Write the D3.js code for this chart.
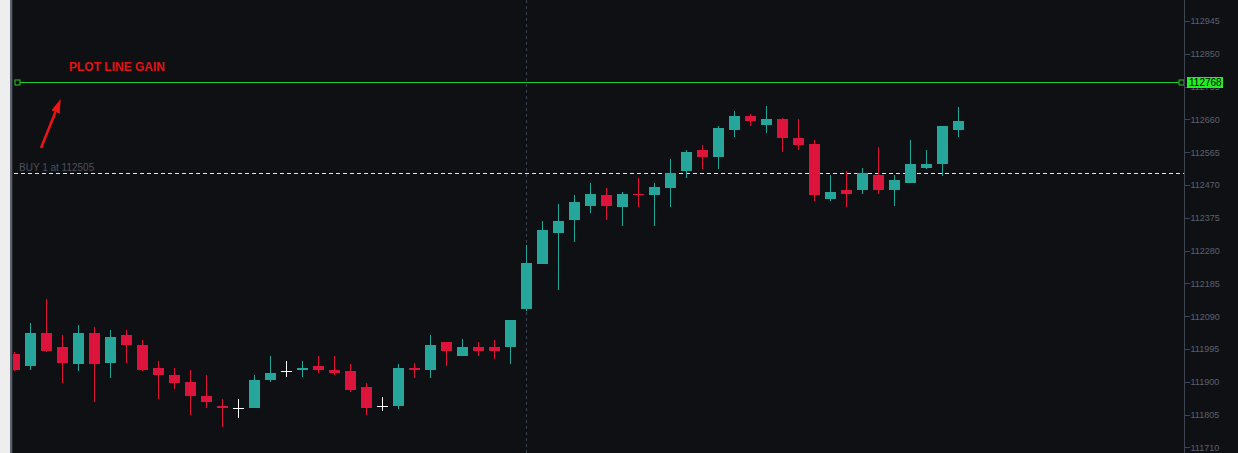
<!DOCTYPE html>
<html lang="en">
<head>
<meta charset="utf-8">
<script src="https://d3js.org/d3.v7.min.js"></script>
<style type="text/css">
body {
  margin: 0;
  background-color: #0f1014;
  font: 9px "Liberation Sans", Arial, sans-serif;
}
.axis text {
  fill: #5b616e;
  font: 9px "Liberation Sans", Arial, sans-serif;
}
.axis line, .axis path {
  stroke: #3d4452;
  shape-rendering: crispEdges;
}
</style>
</head>
<body>
<script type="text/javascript">

// OHLC values, one entry per candle
var opens  = [111980,111945,112040,112000,111950,112040,111955,112035,112005,111940,
              111920,111900,111860,111830,111825,111825,111905,111930,111935,111945,
              111935,111930,111885,111830,111830,111940,111935,112015,111975,112000,
              112000,112000,112110,112240,112330,112370,112410,112440,112405,112445,
              112440,112460,112510,112570,112550,112630,112670,112645,112660,112605,
              112590,112430,112455,112455,112500,112455,112475,112520,112530,112630];
var highs  = [111985,112070,112140,112035,112065,112060,112050,112050,112020,111960,
              111940,111935,111920,111850,111850,111920,111975,111960,111960,111975,
              111975,111950,111895,111855,111950,111955,112035,112015,112025,112015,
              112020,112080,112295,112365,112415,112440,112475,112460,112450,112490,
              112475,112545,112570,112585,112640,112685,112675,112700,112665,112660,
              112600,112500,112510,112520,112580,112500,112600,112570,112640,112695];
var lows   = [111930,111935,111985,111895,111930,111840,111910,111955,111930,111850,
              111880,111805,111825,111770,111795,111825,111900,111915,111915,111925,
              111920,111870,111805,111815,111820,111910,111910,111945,111975,111975,
              111965,111950,112105,112240,112165,112305,112390,112370,112350,112405,
              112350,112405,112490,112515,112515,112610,112640,112620,112565,112570,
              112425,112425,112405,112445,112445,112410,112475,112515,112495,112610];
var closes = [111935,112040,111990,111955,112040,111950,112030,112005,111935,111920,
              111895,111860,111840,111825,111825,111905,111925,111930,111940,111935,
              111925,111875,111825,111830,111940,111935,112005,111990,112000,111990,
              111990,112080,112245,112340,112365,112420,112445,112410,112445,112440,
              112465,112505,112565,112550,112635,112670,112655,112660,112605,112585,
              112440,112450,112445,112505,112455,112485,112530,112530,112640,112655];

var yTicks = [111710,111805,111900,111995,112090,112185,112280,112375,112470,112565,112660,112755,112850,112945];

var gainLevel = 112768;
var buyLevel = 112505;
var buyText = "BUY 1 at 112505";
var gainText = "PLOT LINE GAIN";

var width = 1238;
var height = 453;
var plotLeft = 13;
var plotRight = 1184;

var upColor = "#26a69a";
var downColor = "#dc143c";
var flatColor = "#ffffff";
var gainColor = "#22cc22";

var x = d3.scaleLinear().domain([0, 59]).range([14.5, 958.5]);
var y = d3.scaleLinear().domain([111693.5, 113006]).range([height, 0]);

var svg = d3.select("body")
  .append("svg")
  .attr("width", width)
  .attr("height", height);

svg.append("rect").attr("width", width).attr("height", height).attr("fill", "#0f1014");

// left window edge
svg.append("rect").attr("x", 0).attr("width", 10).attr("height", height).attr("fill", "#eeeeee");
svg.append("rect").attr("x", 10).attr("width", 2).attr("height", height).attr("fill", "#5a606c");
svg.append("rect").attr("x", 12).attr("width", 1).attr("height", height).attr("fill", "#262a32");

svg.append("clipPath").attr("id", "plot")
  .append("rect").attr("x", plotLeft).attr("y", 0)
  .attr("width", plotRight - plotLeft).attr("height", height);

var plot = svg.append("g").attr("clip-path", "url(#plot)");

// vertical dashed crosshair
plot.append("line")
  .attr("x1", x(32)).attr("x2", x(32))
  .attr("y1", 0).attr("y2", height)
  .attr("stroke", "#3a4150")
  .attr("stroke-dasharray", "3,3");

// buy line
var buyY = Math.round(y(buyLevel)) + 0.5;
plot.append("line")
  .attr("x1", plotLeft + 1).attr("x2", plotRight)
  .attr("y1", buyY).attr("y2", buyY)
  .attr("stroke", "#e6e6e6")
  .attr("stroke-dasharray", "4,3");

plot.append("text")
  .attr("x", 19).attr("y", buyY - 3)
  .attr("fill", "#4a505e")
  .style("font-size", "10px")
  .text(buyText);

// candles
var idx = d3.range(opens.length);
function candleColor(i) {
  if (closes[i] > opens[i]) return upColor;
  if (closes[i] < opens[i]) return downColor;
  return flatColor;
}

var candles = plot.selectAll("g.candle")
  .data(idx)
  .enter()
  .append("g")
  .attr("class", "candle");

candles.append("line")
  .attr("x1", function(i) { return x(i); })
  .attr("x2", function(i) { return x(i); })
  .attr("y1", function(i) { return Math.round(y(highs[i])); })
  .attr("y2", function(i) { return Math.round(y(lows[i])); })
  .attr("stroke", candleColor)
  .attr("stroke-width", 1)
  .style("shape-rendering", "crispEdges");

candles.append("rect")
  .attr("x", function(i) { return x(i) - 5.5; })
  .attr("width", 11)
  .attr("y", function(i) { return Math.round(y(Math.max(opens[i], closes[i]))); })
  .attr("height", function(i) {
    var h = Math.round(y(Math.min(opens[i], closes[i]))) - Math.round(y(Math.max(opens[i], closes[i])));
    return Math.max(1, h);
  })
  .attr("fill", candleColor)
  .style("shape-rendering", "crispEdges");

// gain line
var gainY = Math.round(y(gainLevel)) + 0.5;
plot.append("line")
  .attr("x1", 17).attr("x2", 1182)
  .attr("y1", gainY).attr("y2", gainY)
  .attr("stroke", gainColor);

[17.5, 1181.5].forEach(function(cx) {
  plot.append("rect")
    .attr("x", cx - 2.5).attr("y", gainY - 2.5)
    .attr("width", 5).attr("height", 5)
    .attr("fill", "#0f1014")
    .attr("stroke", gainColor);
});

svg.append("text")
  .attr("x", 69).attr("y", 71)
  .attr("fill", "#e01414")
  .style("font", "bold 12px 'Liberation Sans', Arial, sans-serif")
  .text(gainText);

// arrow
svg.append("defs").append("marker")
  .attr("id", "head")
  .attr("viewBox", "0 0 14 9")
  .attr("markerUnits", "userSpaceOnUse")
  .attr("refX", 0).attr("refY", 4.5)
  .attr("markerWidth", 14).attr("markerHeight", 9)
  .attr("orient", "auto")
  .append("path")
  .attr("d", "M0,0L14,4.5L0,9z")
  .attr("fill", "#ee1515");

svg.append("line")
  .attr("x1", 41).attr("y1", 148)
  .attr("x2", 55.5).attr("y2", 112)
  .attr("stroke", "#ee1515")
  .attr("stroke-width", 2.5)
  .attr("marker-end", "url(#head)");

// right price axis
var axis = svg.append("g")
  .attr("class", "axis")
  .attr("transform", "translate(" + (plotRight + 0.5) + ",0)")
  .call(d3.axisRight(y).tickValues(yTicks).tickSize(5).tickPadding(1).tickFormat(d3.format("d")));
axis.select(".domain").attr("d", "M0,0V" + height);

// gain price label
svg.append("rect")
  .attr("x", 1187).attr("y", gainY - 5.5)
  .attr("width", 36).attr("height", 11)
  .attr("fill", "#22ee22");
svg.append("text")
  .attr("x", 1189).attr("y", gainY + 3.5)
  .attr("fill", "#000000")
  .style("font-size", "10px")
  .text(d3.format("d")(gainLevel));

</script>
</body>
</html>
